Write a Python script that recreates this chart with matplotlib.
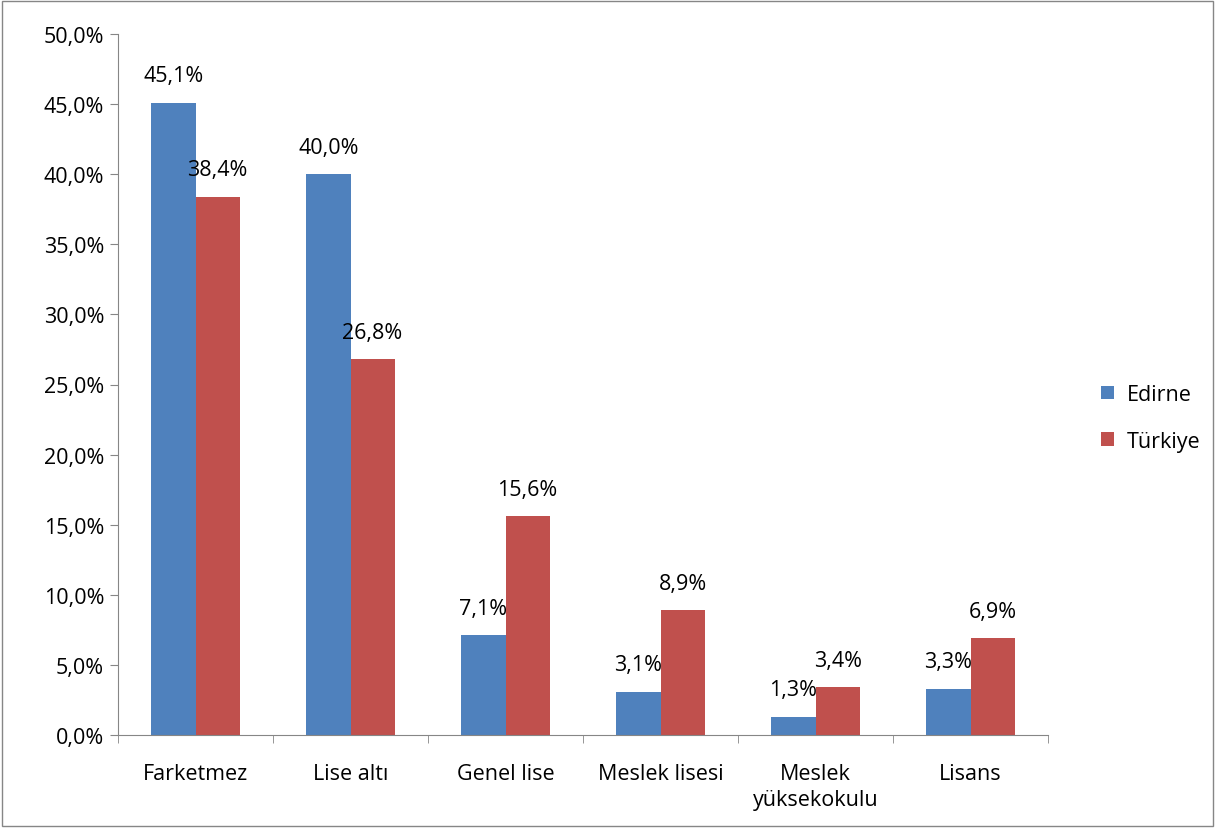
import matplotlib.pyplot as plt
import numpy as np

categories = ["Farketmez", "Lise altı", "Genel lise", "Meslek lisesi", "Meslek\nyüksekokulu", "Lisans"]
edirne = [45.1, 40.0, 7.1, 3.1, 1.3, 3.3]
turkiye = [38.4, 26.8, 15.6, 8.9, 3.4, 6.9]
series_names = ["Edirne", "Türkiye"]
colors = ["#4F81BD", "#C0504D"]

plt.rcParams['font.family'] = ['Open Sans', 'DejaVu Sans']
fs = 15.5

fig = plt.figure(figsize=(12.15, 8.29), dpi=100)
ax = fig.add_axes([118 / 1215, 1 - 736 / 829, 930 / 1215, 701 / 829])

x = np.arange(len(categories))
w = 0.285
b1 = ax.bar(x - w / 2, edirne, w, color=colors[0], label=series_names[0])
b2 = ax.bar(x + w / 2, turkiye, w, color=colors[1], label=series_names[1])

def fmt(v):
    return f"{v:.1f}%".replace(".", ",")

for bars, vals in [(b1, edirne), (b2, turkiye)]:
    for r, v in zip(bars, vals):
        ax.annotate(fmt(v), (r.get_x() + r.get_width() / 2, v), xytext=(0, 12),
                    textcoords="offset points", ha="center", va="bottom", fontsize=fs)

ax.set_xlim(-0.5, len(categories) - 0.5)
ax.set_ylim(0, 50)
ax.set_yticks(np.arange(0, 50.1, 5))
ax.set_yticklabels([fmt(v) for v in np.arange(0, 50.1, 5)], fontsize=fs)
ax.set_xticks(x)
ax.set_xticklabels(categories, fontsize=fs, linespacing=1.3)
ax.tick_params(axis="x", length=0, pad=20)
ax.set_xticks(np.arange(-0.5, len(categories)), minor=True)
ax.tick_params(axis="x", which="minor", length=6, color="#868686", direction="out")
ax.tick_params(axis="y", length=6, color="#868686", direction="out", pad=4)

for s in ["top", "right"]:
    ax.spines[s].set_visible(False)
for s in ["left", "bottom"]:
    ax.spines[s].set_color("#868686")

fig.legend(handles=[b1, b2], labels=series_names, loc="center left",
           bbox_to_anchor=(1082 / 1215, 1 - 419 / 829), frameon=False, fontsize=fs,
           handlelength=0.6, handleheight=0.6, labelspacing=1.2, handletextpad=0.6)

fig.add_artist(plt.Rectangle((0.002, 0.002), 0.996, 0.996, transform=fig.transFigure,
                             fill=False, edgecolor="#868686", linewidth=1))

fig.savefig("out.png", dpi=100)
